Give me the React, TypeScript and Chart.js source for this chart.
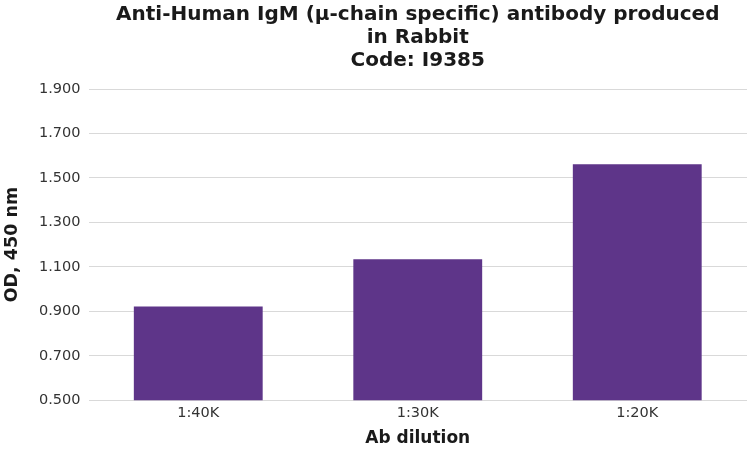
import React, { useEffect, useRef } from "react";
import { Chart, registerables } from "chart.js";

Chart.register(...registerables);

const categories = ["1:40K", "1:30K", "1:20K"];
const odValues = [0.922, 1.134, 1.562];
const titleLines = ["Anti-Human IgM (μ-chain specific) antibody produced", "in Rabbit", "Code: I9385"];
const yAxisTitle = "OD, 450 nm";
const xAxisTitle = "Ab dilution";

export default function App() {
  const ref = useRef<HTMLCanvasElement | null>(null);
  useEffect(() => {
    document.body.style.margin = "0";
    const font = "'DejaVu Sans', Verdana, sans-serif";
    const chart = new Chart(ref.current!, {
      type: "bar",
      data: {
        labels: categories,
        datasets: [
          {
            data: odValues,
            backgroundColor: "#5e3589",
            borderWidth: 0,
            barPercentage: 0.587,
            categoryPercentage: 1,
          },
        ],
      },
      options: {
        animation: false,
        responsive: false,
        layout: { padding: { left: 2, right: 1, top: 0, bottom: 0 } },
        plugins: {
          legend: { display: false },
          tooltip: { enabled: false },
          title: {
            display: true,
            text: titleLines,
            fullSize: false,
            color: "#1a1a1a",
            font: { family: font, size: 20, weight: "bold", lineHeight: 1.15 },
            padding: { top: 3, bottom: 17 },
          },
        },
        scales: {
          x: {
            grid: { display: false, drawTicks: false },
            border: { display: false },
            ticks: { color: "#333333", font: { family: font, size: 14.5 }, padding: 4 },
            title: {
              display: true,
              text: xAxisTitle,
              color: "#1a1a1a",
              font: { family: font, size: 17, weight: "bold" },
              padding: { top: 3, bottom: 1 },
            },
          },
          y: {
            min: 0.5,
            max: 1.9,
            ticks: {
              stepSize: 0.2,
              color: "#333333",
              font: { family: font, size: 14.5 },
              padding: 8,
              callback: (v: any) => Number(v).toFixed(3),
            },
            grid: { color: "#d9d9d9", lineWidth: 1, drawTicks: false },
            border: { display: false },
            title: {
              display: true,
              text: yAxisTitle,
              color: "#1a1a1a",
              font: { family: font, size: 17.5, weight: "bold" },
              padding: { top: 0, bottom: 8 },
            },
          },
        },
      },
    });
    return () => chart.destroy();
  }, []);
  return <canvas ref={ref} width={748} height={450} style={{ display: "block" }} />;
}
